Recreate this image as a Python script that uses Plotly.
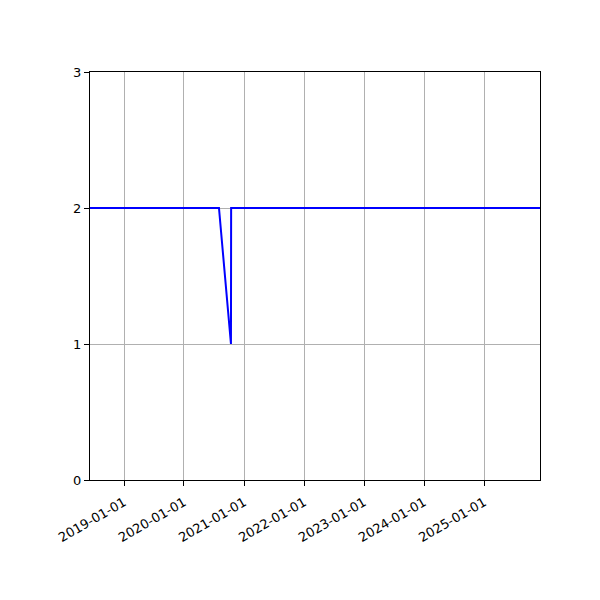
import plotly.graph_objects as go

# values
dates = ["2018-06-08", "2020-08-01", "2020-10-13", "2020-10-14", "2025-12-07"]
values = [2, 2, 1, 2, 2]

x_start = "2018-06-08"
x_end = "2025-12-07"
y_ticks = [0, 1, 2, 3]

fig = go.Figure()
fig.add_trace(go.Scatter(x=dates, y=values, mode="lines",
                         line=dict(color="#0000ff", width=2), showlegend=False))

fig.update_xaxes(range=[x_start, x_end], tick0="2019-01-01", dtick="M12",
                 tickformat="%Y-%m-%d", tickangle=-30, ticklabelstandoff=4,
                 showgrid=True, gridcolor="#b0b0b0", gridwidth=1,
                 showline=True, linecolor="black", linewidth=1, mirror=True,
                 ticks="outside", ticklen=5, tickcolor="black", zeroline=False)
fig.update_yaxes(range=[0, 3], tickvals=y_ticks,
                 showgrid=True, gridcolor="#b0b0b0", gridwidth=1,
                 showline=True, linecolor="black", linewidth=1, mirror=True,
                 ticks="outside", ticklen=5, tickcolor="black", zeroline=False)
# page body has an 8px margin, so the plot box is shifted by that much
fig.update_layout(width=600, height=600, plot_bgcolor="white", paper_bgcolor="white",
                  margin=dict(l=82, r=68, t=64, b=128),
                  font=dict(family="DejaVu Sans", size=13, color="black"))

fig.write_html("out.html")
